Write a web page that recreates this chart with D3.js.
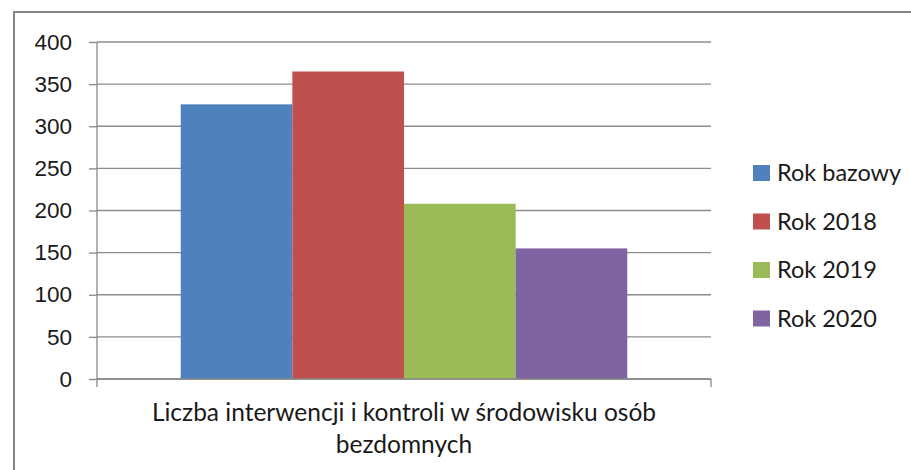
<!DOCTYPE html>
<html>
<head>
<meta charset="utf-8">
<script src="https://cdn.jsdelivr.net/npm/d3@7"></script>
<style>
  html, body { margin: 0; padding: 0; background: #fff; }
  svg { display: block; font-family: Lato, "Open Sans", sans-serif; }
</style>
</head>
<body>
<div id="chart"></div>
<script>
// data
const series = ['Rok bazowy', 'Rok 2018', 'Rok 2019', 'Rok 2020'];
const values = [326, 365, 208, 155];
const colors = ['#4f81bd', '#c0504d', '#9bbb59', '#8064a2'];
const yTicks = [0, 50, 100, 150, 200, 250, 300, 350, 400];
const categoryLines = ['Liczba interwencji i kontroli w środowisku osób', 'bezdomnych'];

const width = 911, height = 470;
const plot = { left: 97, right: 711, top: 42, bottom: 379 };

const svg = d3.select('#chart').append('svg')
    .attr('width', width)
    .attr('height', height);

// outer chart frame (right and bottom run off the picture)
svg.append('rect')
    .attr('x', 14).attr('y', 12)
    .attr('width', width + 20).attr('height', height + 20)
    .attr('fill', '#fff')
    .attr('stroke', '#868686')
    .attr('stroke-width', 2);

const y = d3.scaleLinear().domain([0, 400]).range([plot.bottom, plot.top]);

// single category, bars fill it with a 150% gap width
const x0 = d3.scaleBand().domain(['cat']).range([plot.left, plot.right]);
const groupW = x0.bandwidth();
const barW = groupW / (series.length + 1.5);
const x1 = d3.scaleBand().domain(series)
    .range([x0('cat') + barW * 0.75, x0('cat') + groupW - barW * 0.75]);

// gridlines + y axis
const yAxis = d3.axisLeft(y).tickValues(yTicks).tickSize(8).tickPadding(17);
const gy = svg.append('g')
    .attr('transform', 'translate(' + plot.left + ',0)')
    .call(yAxis);
gy.select('.domain').remove();
gy.selectAll('.tick line').attr('stroke', '#888').attr('stroke-width', 1.3);
gy.selectAll('.tick text')
    .attr('fill', '#1a1a1a')
    .style('font-size', '22.5px');

svg.append('g').selectAll('line')
    .data(yTicks)
    .enter().append('line')
    .attr('x1', plot.left).attr('x2', plot.right)
    .attr('y1', d => y(d)).attr('y2', d => y(d))
    .attr('stroke', '#8c8c8c')
    .attr('stroke-width', 1.3);

// bars
svg.append('g').selectAll('rect')
    .data(series)
    .enter().append('rect')
    .attr('x', d => x1(d))
    .attr('width', x1.bandwidth())
    .attr('y', (d, i) => y(values[i]))
    .attr('height', (d, i) => y(0) - y(values[i]))
    .attr('fill', (d, i) => colors[i]);

// axes lines drawn over bars
svg.append('line')
    .attr('x1', plot.left).attr('x2', plot.left)
    .attr('y1', plot.top).attr('y2', plot.bottom + 8)
    .attr('stroke', '#888').attr('stroke-width', 1.3);
svg.append('line')
    .attr('x1', plot.left).attr('x2', plot.right)
    .attr('y1', plot.bottom).attr('y2', plot.bottom)
    .attr('stroke', '#888').attr('stroke-width', 1.3);
svg.append('line')
    .attr('x1', plot.right).attr('x2', plot.right)
    .attr('y1', plot.bottom).attr('y2', plot.bottom + 8)
    .attr('stroke', '#888').attr('stroke-width', 1.3);

// category label
svg.append('text')
    .attr('x', x0('cat') + groupW / 2)
    .attr('y', 421)
    .attr('text-anchor', 'middle')
    .attr('fill', '#1a1a1a')
    .style('font-size', '24.5px')
    .selectAll('tspan')
    .data(categoryLines)
    .enter().append('tspan')
    .attr('x', x0('cat') + groupW / 2)
    .attr('dy', (d, i) => i ? 32 : 0)
    .text(d => d);

// legend
const legend = svg.append('g').selectAll('g')
    .data(series)
    .enter().append('g')
    .attr('transform', (d, i) => 'translate(753,' + (173 + i * 48.5) + ')');
legend.append('rect')
    .attr('x', 0).attr('y', -8)
    .attr('width', 17).attr('height', 16)
    .attr('fill', (d, i) => colors[i]);
legend.append('text')
    .attr('x', 24).attr('y', 8)
    .attr('fill', '#1a1a1a')
    .style('font-size', '23.5px')
    .text(d => d);
</script>
</body>
</html>
